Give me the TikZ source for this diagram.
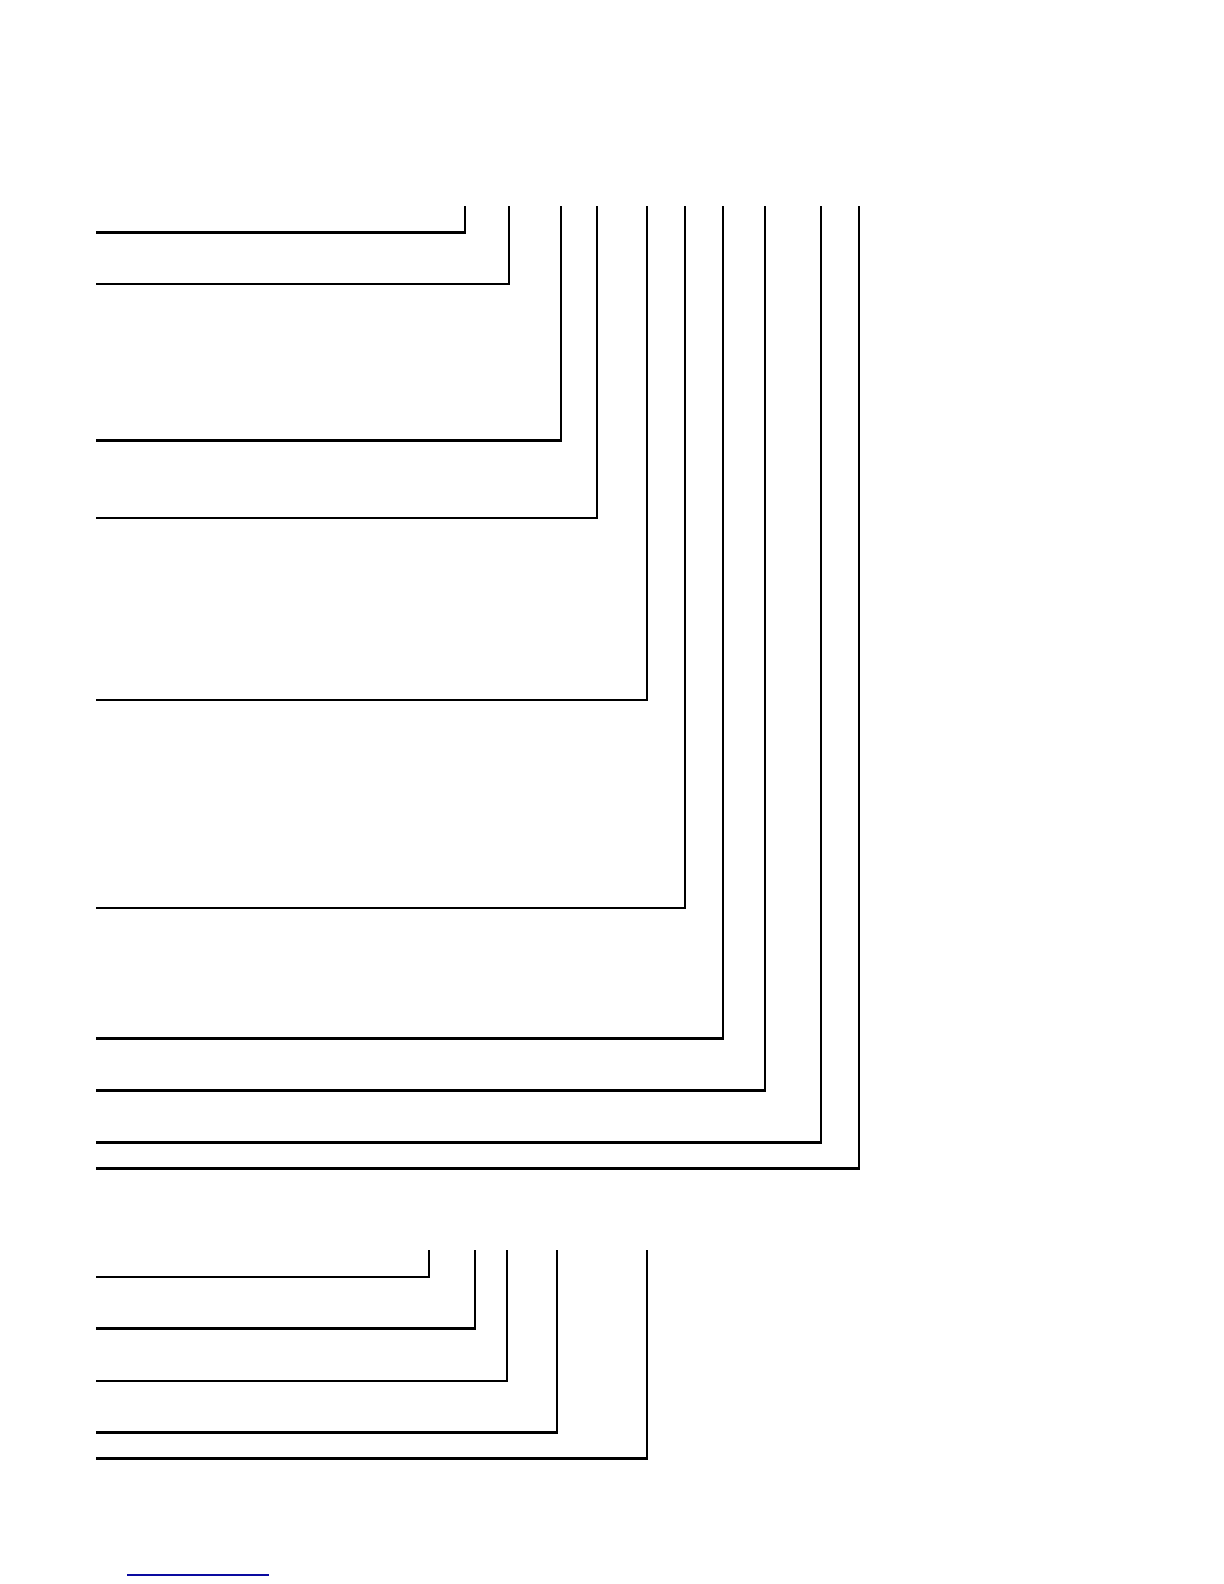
\documentclass[tikz,border=0pt]{standalone}
\usepackage{xcolor}
\definecolor{linkblue}{RGB}{10,10,160}
\begin{document}
\begin{tikzpicture}[x=0.5pt,y=-0.5pt]
	    \tikzset{leader/.style={line width=1.1pt,line join=miter}}
	    \useasboundingbox (0,0) rectangle (1224,1584);
	    % upper group of leaders
	    \foreach \x/\y [count=\i] in {465/232.5,509/284,561/440.5,597/518,647/700,685/908,723/1038.5,765/1090.5,821/1142.5,859/1168.5}
	    {
	    \coordinate (l\i) at (96,\y);
	    \coordinate (t\i) at (\x,206);
	    \draw [leader] (l\i) -| (t\i);
	    }
	    % lower group of leaders
	    \foreach \x/\y [count=\i] in {429/1277,475/1328.5,507/1381,557/1432.5,647/1458.5}
	    {
	    \coordinate (p\i) at (96,\y);
	    \coordinate (q\i) at (\x,1250);
	    \draw [leader] (p\i) -| (q\i);
	    }
	    \coordinate (b0) at (127,1575);
	    \coordinate (b1) at (269,1575);
	    \draw [linkblue,line width=0.6pt] (b0) -- (b1);
	\end{tikzpicture}
\end{document}
